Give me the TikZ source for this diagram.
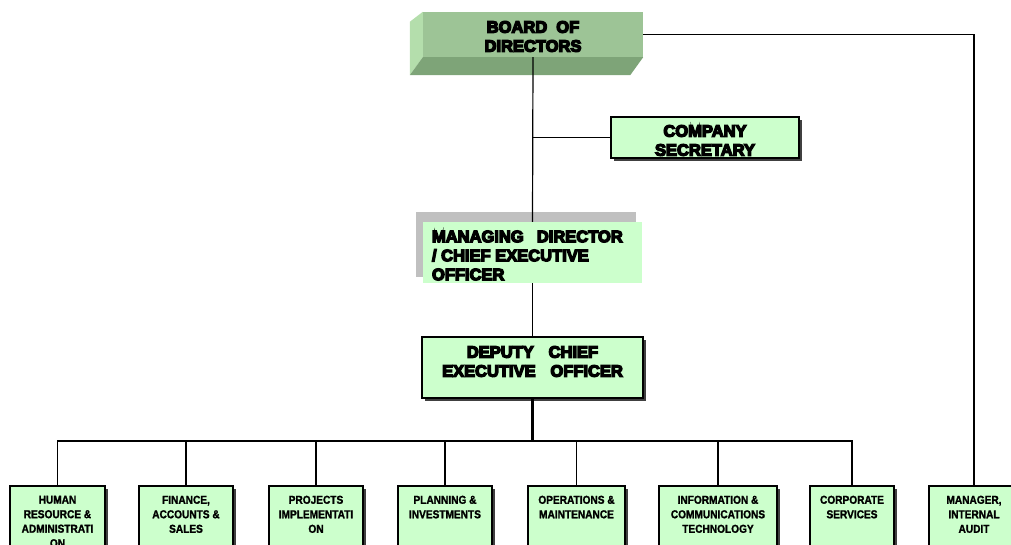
\documentclass[tikz,border=0pt]{standalone}
\usepackage{fontspec}
\setmainfont{Liberation Sans}
\newfontfamily\heavyfont{Liberation Sans}[BoldFeatures={FakeBold=8}]
\newfontfamily\narrowfont{Liberation Sans}[FakeStretch=0.88, BoldFeatures={FakeBold=1.5}]
\usetikzlibrary{shadows}
\definecolor{boxgreen}{RGB}{204,255,204}
\definecolor{boardfront}{RGB}{157,196,150}
\definecolor{boardleft}{RGB}{180,222,172}
\definecolor{boardbottom}{RGB}{126,164,120}
\definecolor{mdshadow}{RGB}{192,192,192}
\newcommand{\dept}[2]{\parbox[t][72pt][t]{#1}{\centering #2}}
\tikzset{
  conn/.style={draw=black, line width=1.2pt},
  bigfont/.style={font=\heavyfont\bfseries\fontsize{16.5}{19}\selectfont, inner sep=0pt},
  greenbox/.style={draw=black, line width=1.5pt, fill=boxgreen,
    drop shadow={shadow xshift=3pt, shadow yshift=-3pt, fill=black!75, opacity=1}},
  dept/.style={greenbox, anchor=north, inner xsep=2pt, inner ysep=10pt,
    font=\narrowfont\bfseries\fontsize{11.5}{14.5}\selectfont}
}
\begin{document}
\begin{tikzpicture}[x=1pt,y=-1pt]
\useasboundingbox (0,0) rectangle (1011,545);
% MD gray shadow
\fill[mdshadow] (416,212) rectangle (636,277);
% Board
\node[fill=boardfront, minimum width=220pt, minimum height=45pt, inner sep=0pt]
  (board) at (533,34.5) {};
\fill[boardleft] (board.north west) -- ([shift={(-13,10)}]board.north west)
  -- ([shift={(-13,18)}]board.south west) -- (board.south west) -- cycle;
\fill[boardbottom] (board.south west) -- (board.south east)
  -- ([shift={(-13,18)}]board.south east) -- ([shift={(-13,18)}]board.south west) -- cycle;
\node[bigfont, align=center] (boardT) at ([yshift=-2pt]board.center) {BOARD\hspace{0.55em}OF\\DIRECTORS};
% Company secretary
\node[greenbox, minimum width=188pt, minimum height=41pt, inner sep=0pt]
  (sec) at (705,137.5) {};
\node[bigfont, align=center] (secT) at ([yshift=-3pt]sec.center) {COMPANY\\SECRETARY};
% MD
\node[fill=boxgreen, minimum width=219pt, minimum height=61pt, inner sep=0pt]
  (md) at (532.5,252.5) {};
\node[bigfont, align=left, anchor=west] (mdT) at ([xshift=9pt, yshift=-3pt]md.west) {MANAGING\hspace{0.8em}DIRECTOR\\/ CHIEF EXECUTIVE\\OFFICER};
% Deputy
\node[greenbox, minimum width=221pt, minimum height=61pt, inner sep=0pt]
  (dep) at (532.5,367.5) {};
\node[bigfont, align=center] (depT) at ([yshift=6pt]dep.center) {DEPUTY\hspace{0.9em}CHIEF\\EXECUTIVE\hspace{0.9em}OFFICER};
% Departments
\node[dept] (hr) at (57.5,485) {\dept{91pt}{HUMAN\\RESOURCE \&\\ADMINISTRATI\\ON}};
\node[dept] (fin) at (186,485) {\dept{90pt}{FINANCE,\\ACCOUNTS \&\\SALES}};
\node[dept] (proj) at (316,485) {\dept{90pt}{PROJECTS\\IMPLEMENTATI\\ON}};
\node[dept] (plan) at (445,485) {\dept{90pt}{PLANNING \&\\INVESTMENTS}};
\node[dept] (ops) at (576.5,485) {\dept{93pt}{OPERATIONS \&\\MAINTENANCE}};
\node[dept] (ict) at (718,485) {\dept{114pt}{INFORMATION \&\\COMMUNICATIONS\\TECHNOLOGY}};
\node[dept] (corp) at (852,485) {\dept{80pt}{CORPORATE\\SERVICES}};
\node[dept] (audit) at (974,485) {\dept{86pt}{MANAGER,\\INTERNAL\\AUDIT}};
% Connectors
\draw[conn] (board.south) -- (md.north);
\draw[conn] (board.south |- sec.west) -- (sec.west);
\draw[conn] (md.south) -- (dep.north);
\draw[conn] (board.east) -| (audit.north);
\coordinate (bus) at (532.5,441);
\draw[draw=black, line width=2.5pt] (dep.south) -- (bus);
\foreach \n in {hr,fin,proj,plan,ops,ict,corp}{
  \draw[conn] (bus) -| (\n.north);
}
\end{tikzpicture}
\end{document}
